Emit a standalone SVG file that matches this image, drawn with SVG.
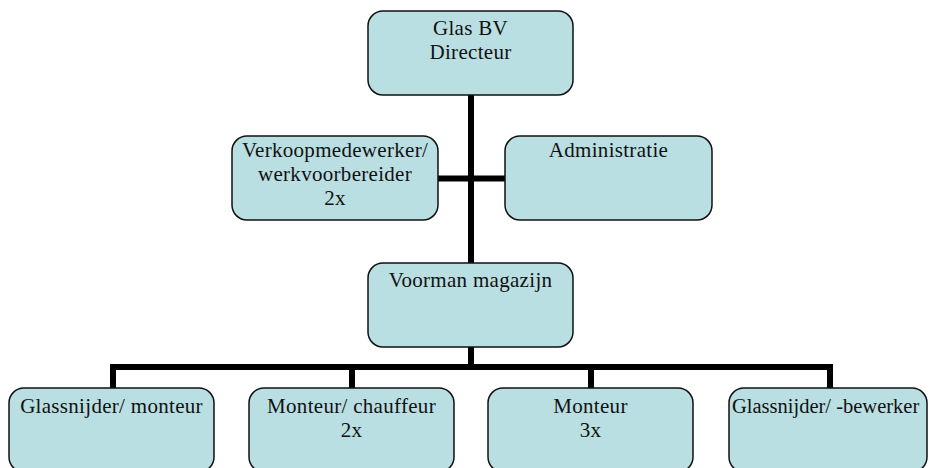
<svg xmlns="http://www.w3.org/2000/svg" width="929" height="468" viewBox="0 0 929 468">
<style>
.box{fill:#b9dfe3;stroke:#111;stroke-width:1.5}
.t{font-family:"Liberation Serif","Times New Roman",serif;font-size:21px;letter-spacing:0.3px;fill:#111;text-anchor:middle}
.c{fill:none;stroke:#000;stroke-width:6;stroke-linejoin:miter;stroke-linecap:butt}
</style>
<rect width="929" height="468" fill="#fff"/>
<g id="connectors">
<path class="c" d="M471 95V263"/>
<path class="c" d="M438 178.5H505"/>
<path class="c" d="M471 347V367"/>
<path class="c" d="M113 388V367H830V388"/>
<path class="c" d="M352 367V388"/>
<path class="c" d="M591 367V388"/>
</g>
<g id="directeur">
<rect class="box" x="368" y="11" width="205" height="84" rx="15"/>
<text class="t" x="470.5" y="35">Glas BV</text>
<text class="t" x="470.5" y="59">Directeur</text>
</g>
<g id="verkoop">
<rect class="box" x="232" y="136" width="206" height="84" rx="15"/>
<text class="t" x="335" y="157">Verkoopmedewerker/</text>
<text class="t" x="335" y="181">werkvoorbereider</text>
<text class="t" x="335" y="205">2x</text>
</g>
<g id="administratie">
<rect class="box" x="505" y="136" width="207" height="84" rx="15"/>
<text class="t" x="608.5" y="157">Administratie</text>
</g>
<g id="voorman">
<rect class="box" x="368" y="263" width="205" height="84" rx="15"/>
<text class="t" x="470.5" y="287">Voorman magazijn</text>
</g>
<g id="glassnijder-monteur">
<rect class="box" x="9" y="388" width="205" height="84" rx="15"/>
<text class="t" x="111.5" y="413">Glassnijder/ monteur</text>
</g>
<g id="monteur-chauffeur">
<rect class="box" x="249" y="388" width="205" height="84" rx="15"/>
<text class="t" x="351.5" y="413">Monteur/ chauffeur</text>
<text class="t" x="351.5" y="437">2x</text>
</g>
<g id="monteur">
<rect class="box" x="488" y="388" width="205" height="84" rx="15"/>
<text class="t" x="590.5" y="413">Monteur</text>
<text class="t" x="590.5" y="437">3x</text>
</g>
<g id="glassnijder-bewerker">
<rect class="box" x="729" y="388" width="198" height="84" rx="15"/>
<text class="t" x="732" y="413" style="text-anchor:start;letter-spacing:0px;font-size:20.5px">Glassnijder/ -bewerker</text>
</g>
</svg>
